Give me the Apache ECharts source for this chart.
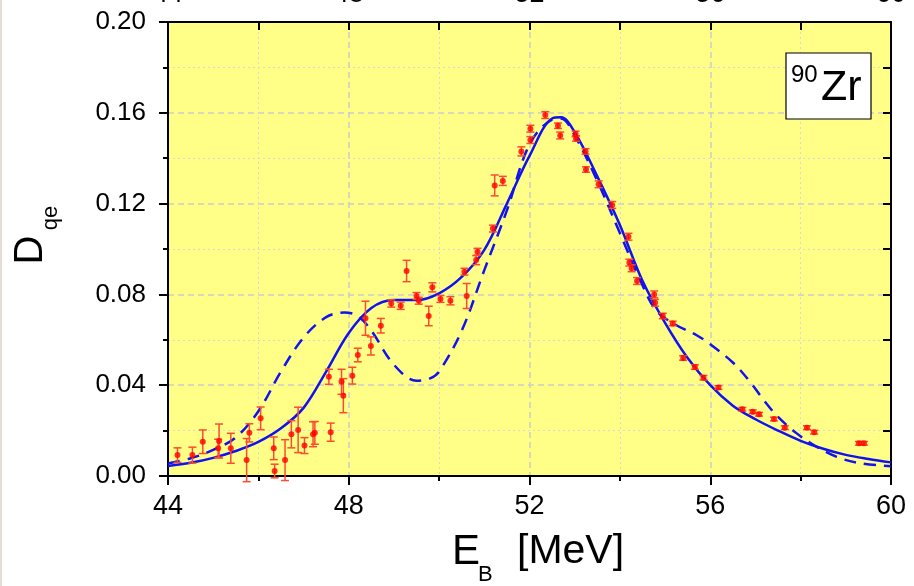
<!DOCTYPE html>
<html><head><meta charset="utf-8">
<script src="https://cdn.jsdelivr.net/npm/echarts@6/dist/echarts.min.js"></script>
<style>html,body{margin:0;padding:0;background:#fff}#c{width:914px;height:586px}</style>
</head><body><div id="c"></div>
<script>
// Experimental data (E_B in MeV, D_qe, error)
const expE = [44.21,44.54,44.77,45.11,45.13,45.39,45.74,45.80,46.05,46.34,46.36,46.59,46.73,46.88,47.02,47.21,47.25,47.60,47.56,47.84,47.88,48.08,48.20,48.37,48.49,48.71,48.94,49.15,49.28,49.50,49.55,49.77,49.85,50.03,50.25,50.56,50.61,50.82,50.85,51.19,51.23,51.41,51.82,52.02,52.02,52.35,52.63,52.68,53.02,53.03,53.24,53.25,53.53,53.83,54.19,54.21,54.26,54.38,54.76,54.78,54.95,55.17,55.40,55.66,55.85,56.18,56.71,56.94,57.08,57.41,57.65,58.14,58.30,59.29,59.40];
const expD = [0.0092,0.0092,0.0151,0.0122,0.0154,0.0122,0.0070,0.0190,0.0254,0.0122,0.0022,0.0070,0.0184,0.0203,0.0134,0.0184,0.0190,0.0193,0.0437,0.0415,0.0354,0.0442,0.0533,0.0695,0.0573,0.0662,0.0760,0.0750,0.0903,0.0793,0.0772,0.0705,0.0831,0.0780,0.0772,0.0900,0.0793,0.0951,0.0988,0.1090,0.1280,0.1300,0.1430,0.1480,0.1530,0.1590,0.1543,0.1500,0.1507,0.1487,0.1430,0.1350,0.1285,0.1194,0.1054,0.0940,0.0915,0.0859,0.0800,0.0763,0.0705,0.0672,0.0520,0.0480,0.0433,0.0390,0.0294,0.0283,0.0272,0.0251,0.0213,0.0213,0.0193,0.0144,0.0144];
const expErr = [0.0032,0.0035,0.0052,0.0040,0.0075,0.0066,0.0095,0.0040,0.0050,0.0050,0.0030,0.0090,0.0060,0.0100,0.0035,0.0055,0.0050,0.0040,0.0033,0.0055,0.0075,0.0037,0.0030,0.0075,0.0040,0.0032,0.0016,0.0016,0.0047,0.0015,0.0015,0.0043,0.0020,0.0015,0.0018,0.0015,0.0055,0.0020,0.0015,0.0015,0.0046,0.0020,0.0020,0.0015,0.0015,0.0015,0.0012,0.0015,0.0012,0.0012,0.0012,0.0012,0.0015,0.0015,0.0015,0.0015,0.0015,0.0015,0.0015,0.0015,0.0012,0.0010,0.0010,0.0010,0.0010,0.0008,0.0008,0.0008,0.0008,0.0008,0.0008,0.0008,0.0008,0.0008,0.0008];
// Solid theory curve
const solidE = [44,44.5,45,45.5,46,46.5,47,47.5,48,48.5,49,49.5,50,50.5,51,51.5,52,52.5,52.7,53,53.5,54,54.5,55,55.5,56,56.5,57,57.5,58,58.5,59,59.5,60];
const solidD = [0.0044,0.0058,0.0080,0.0110,0.0150,0.0210,0.0300,0.0460,0.0630,0.0740,0.0775,0.0775,0.0805,0.0877,0.0996,0.1200,0.1410,0.1575,0.1580,0.1515,0.1320,0.1106,0.0860,0.0675,0.0520,0.0400,0.0310,0.0250,0.0200,0.0155,0.0120,0.0093,0.0075,0.0060];
// Dashed theory curve
const dashE = [44,44.5,45,45.5,46,46.5,47,47.5,47.9,48.2,48.5,49,49.5,49.8,50,50.5,51,51.5,52,52.5,52.7,53,53.5,54,54.5,54.8,55.2,55.7,56,56.5,56.9,57.2,57.5,57.9,58.3,58.8,59.3,60];
const dashD = [0.0055,0.0078,0.0115,0.0170,0.0285,0.0460,0.0610,0.0700,0.0720,0.0705,0.0640,0.0490,0.0420,0.0430,0.0460,0.0640,0.0907,0.1170,0.1460,0.1570,0.1575,0.1500,0.1300,0.1070,0.0840,0.0730,0.0670,0.0620,0.0580,0.0500,0.0410,0.0330,0.0260,0.0190,0.0135,0.0084,0.0057,0.0043];
// Axis settings
const xMin = 44, xMax = 60, xStep = 4;
const yMin = 0, yMax = 0.20, yStep = 0.04;

const FONT = 'Liberation Sans, Arial, sans-serif';
const chart = echarts.init(document.getElementById('c'), null, {renderer:'canvas'});
const expData = expE.map((e,i)=>[e, expD[i], expErr[i]]);
const blue = '#1212f0';
const axisBase = {
  type:'value', min:xMin, max:xMax, interval:xStep,
  axisLine:{show:true, onZero:false, lineStyle:{color:'#000', width:2}},
};
const option = {
  animation:false,
  backgroundColor:'#fff',
  grid:{left:168, right:23, top:22, bottom:110, show:true, backgroundColor:'#FFFF88', borderWidth:0, containLabel:false, outerBoundsMode:'none'},
  xAxis:[
    Object.assign({}, axisBase, {
      position:'bottom',
      axisTick:{show:true, inside:false, length:9, lineStyle:{color:'#000', width:2}},
      minorTick:{show:true, splitNumber:2, length:5, lineStyle:{color:'#000', width:2}},
      axisLabel:{fontSize:27, color:'#000', margin:17, fontFamily:FONT},
      splitLine:{show:true, lineStyle:{color:'#cccccc', type:[6,4], width:1.5}},
      minorSplitLine:{show:true, lineStyle:{color:'#d8d8d8', type:[2,3], width:1}}
    }),
    Object.assign({}, axisBase, {
      position:'top',
      axisTick:{show:true, inside:true, length:8, lineStyle:{color:'#000', width:2}},
      minorTick:{show:true, splitNumber:2, length:8, lineStyle:{color:'#000', width:2}},
      axisLabel:{show:true, fontSize:27, color:'#000', margin:14, fontFamily:FONT},
      splitLine:{show:false}
    })
  ],
  yAxis:[
    {type:'value', position:'left', min:yMin, max:yMax, interval:yStep,
      axisLine:{show:true, onZero:false, lineStyle:{color:'#000', width:2}},
      axisTick:{show:true, inside:false, length:9, lineStyle:{color:'#000', width:2}},
      minorTick:{show:true, splitNumber:2, length:5, lineStyle:{color:'#000', width:2}},
      axisLabel:{fontSize:26, color:'#000', margin:22, fontFamily:FONT, formatter:v=>v.toFixed(2)},
      splitLine:{show:true, lineStyle:{color:'#cccccc', type:[6,4], width:1.5}},
      minorSplitLine:{show:true, lineStyle:{color:'#d8d8d8', type:[2,3], width:1}}
    },
    {type:'value', position:'right', min:yMin, max:yMax, interval:yStep,
      axisLine:{show:true, onZero:false, lineStyle:{color:'#000', width:2}},
      axisTick:{show:true, inside:true, length:8, lineStyle:{color:'#000', width:2}},
      minorTick:{show:true, splitNumber:2, length:8, lineStyle:{color:'#000', width:2}},
      axisLabel:{show:false}, splitLine:{show:false}
    }
  ],
  series:[
    {name:'dashed', type:'line', xAxisIndex:0, yAxisIndex:0, data:dashE.map((e,i)=>[e,dashD[i]]),
      smooth:0.35, symbol:'none', lineStyle:{color:blue, width:2.5, type:[12,8]}, z:2},
    {name:'solid', type:'line', xAxisIndex:0, yAxisIndex:0, data:solidE.map((e,i)=>[e,solidD[i]]),
      smooth:0.35, symbol:'none', lineStyle:{color:blue, width:2.5}, z:3},
    {name:'errors', type:'custom', xAxisIndex:0, yAxisIndex:0, data:expData, z:4,
      renderItem:function(params, api){
        const x = api.value(0), y = api.value(1), e = api.value(2);
        const hi = api.coord([x, y+e]), lo = api.coord([x, y-e]);
        const cw = 4, st = {stroke:'#ff4a30', lineWidth:1.5};
        return {type:'group', children:[
          {type:'line', shape:{x1:hi[0], y1:hi[1], x2:lo[0], y2:lo[1]}, style:st},
          {type:'line', shape:{x1:hi[0]-cw, y1:hi[1], x2:hi[0]+cw, y2:hi[1]}, style:st},
          {type:'line', shape:{x1:lo[0]-cw, y1:lo[1], x2:lo[0]+cw, y2:lo[1]}, style:st}
        ]};
      }},
    {name:'exp', type:'scatter', xAxisIndex:0, yAxisIndex:0, data:expData.map(d=>[d[0],d[1]]),
      symbol:'circle', symbolSize:6, itemStyle:{color:'#ff0000'}, z:5}
  ],
  graphic:[
    {type:'rect', left:0, top:0, shape:{x:0, y:0, width:2, height:586}, style:{fill:'#e2ddd8'}, silent:true},
    // x title
    {type:'text', x:452, y:552, style:{text:'E', font:'42px ' + FONT, fill:'#000', align:'left', verticalAlign:'middle'}},
    {type:'text', x:478, y:575, style:{text:'B', font:'22px ' + FONT, fill:'#000', align:'left', verticalAlign:'middle'}},
    {type:'text', x:517, y:552, style:{text:'[MeV]', font:'41px ' + FONT, fill:'#000', align:'left', verticalAlign:'middle'}},
    // y title
    {type:'text', x:31, y:250, rotation:Math.PI/2, style:{text:'D', font:'40px ' + FONT, fill:'#000', align:'center', verticalAlign:'middle'}},
    {type:'text', x:51, y:218, rotation:Math.PI/2, style:{text:'qe', font:'22px ' + FONT, fill:'#000', align:'center', verticalAlign:'middle'}},
    // nucleus label
    {type:'rect', shape:{x:786, y:53, width:85, height:66}, style:{fill:'#fff', stroke:'#000', lineWidth:1.2}, z:10},
    {type:'text', x:791, y:75, z:11, style:{text:'90', font:'24px ' + FONT, fill:'#000', align:'left', verticalAlign:'middle'}},
    {type:'text', x:821, y:88, z:11, style:{text:'Zr', font:'43px ' + FONT, fill:'#000', align:'left', verticalAlign:'middle'}}
  ]
};
chart.setOption(option);
</script>
</body></html>
